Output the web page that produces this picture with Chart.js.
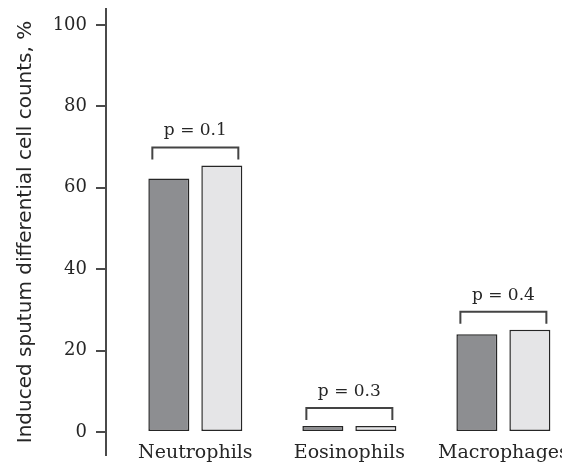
<!DOCTYPE html>
<html lang="en">
    <head>
        <meta charset="UTF-8" />
        <title>Induced sputum differential cell counts</title>
        <script src="https://cdn.jsdelivr.net/npm/chart.js@4.4.1/dist/chart.umd.min.js"></script>
        <style>
            body { margin: 0; background: #fff; }
            .clip { width: 562px; height: 464px; overflow: hidden; position: relative; }
            .wrap { width: 642px; height: 464px; position: absolute; left: 0; top: 0; }
        </style>
    </head>
    <body>
        <div class="clip">
            <div class="wrap"><canvas id="myChart"></canvas></div>
        </div>

        <script>
            const categories = ["Neutrophils", "Eosinophils", "Macrophages"];
            const groupA = [62.3, 1.5, 24.0];
            const groupB = [65.5, 1.5, 25.1];
            const pValues = ["0.1", "0.3", "0.4"];
            const yTicks = [0, 20, 40, 60, 80, 100];

            const ink = "#262626";
            const serif = "'DejaVu Serif', serif";

            // brackets with p values above each pair of bars
            const brackets = {
                id: "brackets",
                afterLayout(chart) {
                    // let the category names sit a bit higher than the chart area bottom
                    chart.scales.x.top -= 16;
                },
                afterDatasetsDraw(chart) {
                    const ctx = chart.ctx;
                    const a = chart.getDatasetMeta(0).data;
                    const b = chart.getDatasetMeta(1).data;
                    ctx.save();
                    ctx.strokeStyle = "#444";
                    ctx.lineWidth = 2;
                    ctx.fillStyle = ink;
                    ctx.font = "17px " + serif;
                    ctx.textAlign = "center";
                    ctx.textBaseline = "alphabetic";
                    pValues.forEach((p, i) => {
                        const left = a[i].x - a[i].width / 2 + 4;
                        const right = b[i].x + b[i].width / 2 - 4;
                        const yEnd = Math.min(a[i].y, b[i].y) - 6;
                        const yTop = yEnd - 12;
                        ctx.beginPath();
                        ctx.moveTo(left, yEnd);
                        ctx.lineTo(left, yTop);
                        ctx.lineTo(right, yTop);
                        ctx.lineTo(right, yEnd);
                        ctx.stroke();
                        ctx.fillText("p = " + p, (left + right) / 2, yTop - 12);
                    });
                    ctx.restore();
                },
            };

            const chart = new Chart("myChart", {
                type: "bar",
                data: {
                    datasets: [
                        {
                            label: "A",
                            data: groupA.map((v, i) => ({ x: i + 1, y: v })),
                            backgroundColor: "#8d8e91",
                            borderColor: "#262626",
                            borderWidth: 1.5,
                            borderSkipped: false,
                        },
                        {
                            label: "B",
                            data: groupB.map((v, i) => ({ x: i + 1, y: v })),
                            backgroundColor: "#e5e5e7",
                            borderColor: "#262626",
                            borderWidth: 1.5,
                            borderSkipped: false,
                        },
                    ],
                },
                options: {
                    responsive: true,
                    maintainAspectRatio: false,
                    animation: false,
                    categoryPercentage: 0.688,
                    barPercentage: 0.774,
                    layout: { padding: { top: 9, left: 0, right: 0, bottom: 0 } },
                    plugins: {
                        legend: { display: false },
                        tooltip: { enabled: false },
                    },
                    scales: {
                        x: {
                            type: "linear",
                            offset: false,
                            min: 0.42,
                            max: 3.9,
                            afterBuildTicks: (s) => {
                                s.ticks = categories.map((c, i) => ({ value: i + 1 }));
                            },
                            afterFit: (s) => {
                                s.height = 9;
                                s.paddingLeft = 0;
                                s.paddingRight = 0;
                            },
                            grid: { display: false, drawTicks: false },
                            border: { display: false },
                            ticks: {
                                padding: 3,
                                color: ink,
                                font: { family: serif, size: 19 },
                                maxRotation: 0,
                                autoSkip: false,
                                callback: (v) => categories[v - 1] || "",
                            },
                        },
                        y: {
                            min: -5.65,
                            max: 103.93,
                            afterBuildTicks: (s) => {
                                s.ticks = yTicks.map((v) => ({ value: v }));
                            },
                            afterFit: (s) => {
                                s.width = 106;
                                s.paddingTop = 0;
                                s.paddingBottom = 0;
                            },
                            grid: {
                                drawOnChartArea: false,
                                tickLength: 10,
                                color: "#4a4a4a",
                                lineWidth: 2,
                            },
                            border: { display: true, color: "#4a4a4a", width: 2 },
                            ticks: {
                                padding: 9,
                                color: ink,
                                font: { family: serif, size: 18 },
                            },
                            title: {
                                display: true,
                                text: "Induced sputum differential cell counts, %",
                                color: ink,
                                font: { family: "'DejaVu Sans', sans-serif", size: 20 },
                                padding: { top: 14, bottom: 0 },
                            },
                        },
                    },
                },
                plugins: [brackets],
            });
        </script>
    </body>
</html>
